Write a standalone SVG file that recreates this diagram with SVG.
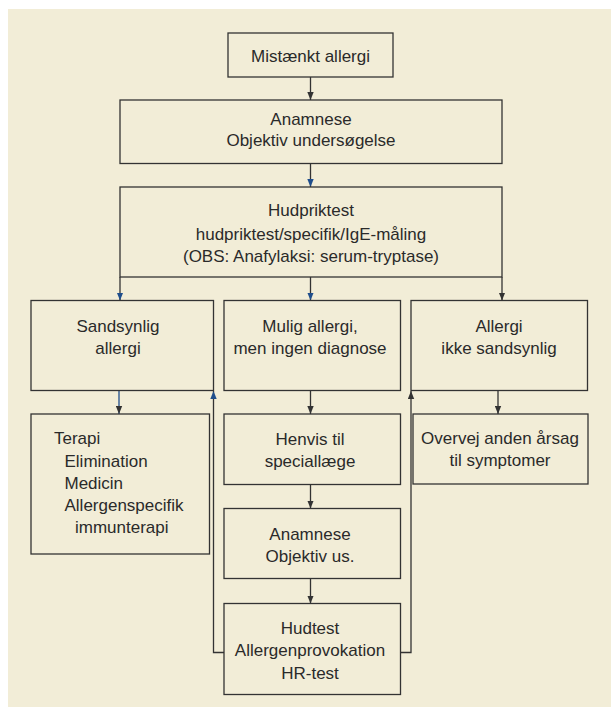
<svg xmlns="http://www.w3.org/2000/svg" width="611" height="708" viewBox="0 0 611 708">
<defs>
<style>
.box{fill:#F2EDD7;stroke:#333333;stroke-width:1.3}
.t{font-family:"Liberation Sans",Arial,sans-serif;font-size:17px;fill:#2a2a2a;text-anchor:middle}
.tl{font-family:"Liberation Sans",Arial,sans-serif;font-size:17px;fill:#2a2a2a}
.ln{fill:none;stroke:#333333;stroke-width:1.3}
.lb{fill:none;stroke:#1F4E8C;stroke-width:1.3}
</style>
<marker id="ad" viewBox="0 0 10 8" refX="10" refY="4" markerWidth="8" markerHeight="7" markerUnits="userSpaceOnUse" orient="auto"><path d="M0,0 L10,4 L0,8 z" fill="#333333"/></marker>
<marker id="ab" viewBox="0 0 10 8" refX="10" refY="4" markerWidth="8" markerHeight="7" markerUnits="userSpaceOnUse" orient="auto"><path d="M0,0 L10,4 L0,8 z" fill="#1F4E8C"/></marker>
</defs>
<rect x="8" y="9" width="603" height="698" fill="#F2EDD7"/>
<g id="connectors">
<line class="ln" x1="310.5" y1="77" x2="310.5" y2="100" marker-end="url(#ad)"/>
<line class="ln" x1="310.5" y1="163.5" x2="310.5" y2="187" marker-end="url(#ab)"/>
<line class="ln" x1="120" y1="277" x2="120" y2="300.5" marker-end="url(#ab)"/>
<line class="ln" x1="310.5" y1="277" x2="310.5" y2="300.5" marker-end="url(#ab)"/>
<line class="ln" x1="502" y1="277" x2="502" y2="300.5" marker-end="url(#ad)"/>
<line class="lb" x1="119" y1="390.5" x2="119" y2="414" marker-end="url(#ad)"/>
<line class="ln" x1="310.5" y1="390.5" x2="310.5" y2="414" marker-end="url(#ad)"/>
<line class="ln" x1="498" y1="390.5" x2="498" y2="414" marker-end="url(#ad)"/>
<line class="ln" x1="310.5" y1="484.5" x2="310.5" y2="508.5" marker-end="url(#ad)"/>
<line class="ln" x1="310.5" y1="578.5" x2="310.5" y2="603.5" marker-end="url(#ad)"/>
<polyline class="ln" points="224,652.5 213.5,652.5 213.5,391" marker-end="url(#ab)"/>
<polyline class="ln" points="400.5,652.5 411,652.5 411,391" marker-end="url(#ad)"/>
</g>
<g id="n1"><rect class="box" x="228" y="33" width="165" height="44"/><text class="t" x="310.5" y="61.5">Mistænkt allergi</text></g>
<g id="n2"><rect class="box" x="120" y="100" width="382" height="63.5"/><text class="t" x="311" y="124.5">Anamnese</text><text class="t" x="311" y="146">Objektiv undersøgelse</text></g>
<g id="n3"><rect class="box" x="120" y="187" width="382" height="90"/><text class="t" x="311" y="216">Hudpriktest</text><text class="t" x="311" y="239.5">hudpriktest/specifik/IgE-måling</text><text class="t" x="311" y="262">(OBS: Anafylaksi: serum-tryptase)</text></g>
<g id="n4"><rect class="box" x="31" y="300.5" width="182.5" height="90"/><text class="t" x="118" y="331.5">Sandsynlig</text><text class="t" x="118" y="353.5">allergi</text></g>
<g id="n5"><rect class="box" x="224" y="300.5" width="176.5" height="90"/><text class="t" x="310" y="331.5">Mulig allergi,</text><text class="t" x="310" y="353.5">men ingen diagnose</text></g>
<g id="n6"><rect class="box" x="411" y="300.5" width="176.5" height="90"/><text class="t" x="499" y="331.5">Allergi</text><text class="t" x="499" y="353.5">ikke sandsynlig</text></g>
<g id="n7"><rect class="box" x="31" y="414" width="178.5" height="140"/><text class="tl" x="54" y="444">Terapi</text><text class="tl" x="64.5" y="466.5">Elimination</text><text class="tl" x="64.5" y="489">Medicin</text><text class="tl" x="64.5" y="511">Allergenspecifik</text><text class="tl" x="75" y="533">immunterapi</text></g>
<g id="n8"><rect class="box" x="224" y="414" width="176.5" height="70.5"/><text class="t" x="310" y="445">Henvis til</text><text class="t" x="310" y="467">speciallæge</text></g>
<g id="n9"><rect class="box" x="413" y="414" width="175" height="70"/><text class="t" x="500" y="444">Overvej anden årsag</text><text class="t" x="500" y="466">til symptomer</text></g>
<g id="n10"><rect class="box" x="224" y="508.5" width="176.5" height="70"/><text class="t" x="310" y="539.5">Anamnese</text><text class="t" x="310" y="562">Objektiv us.</text></g>
<g id="n11"><rect class="box" x="224" y="603.5" width="176.5" height="91"/><text class="t" x="310" y="634">Hudtest</text><text class="t" x="310" y="656">Allergenprovokation</text><text class="t" x="310" y="678.5">HR-test</text></g>
</svg>
